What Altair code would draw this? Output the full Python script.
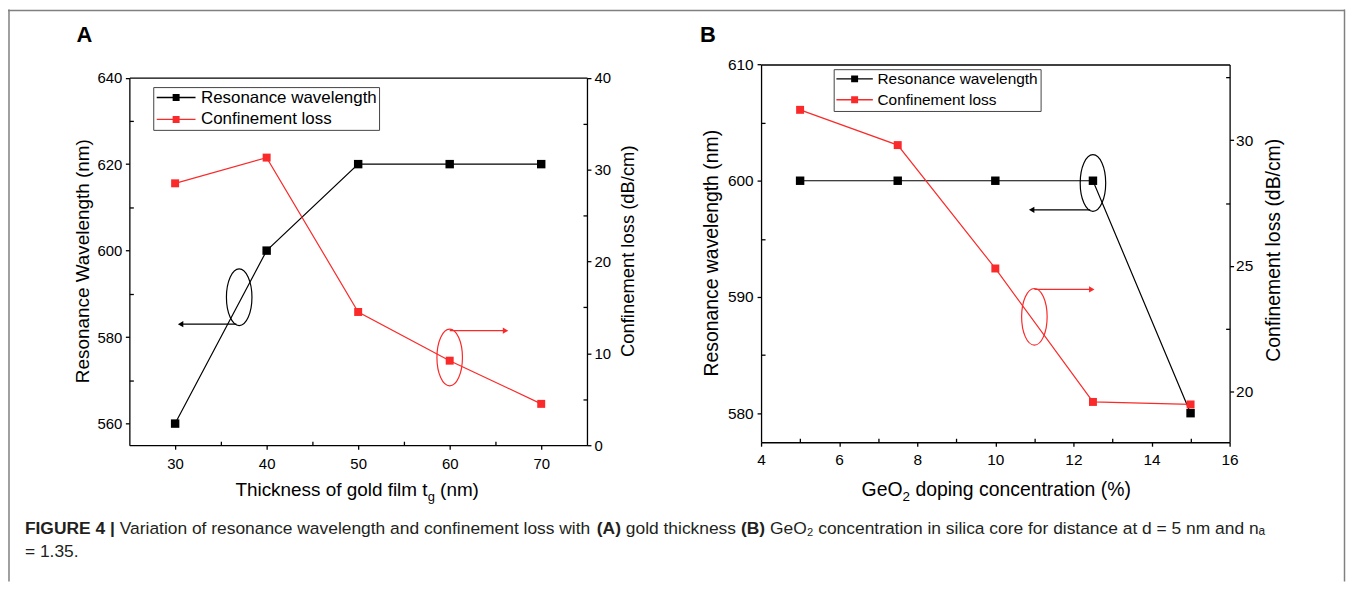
import altair as alt
import pandas as pd

W, H = 1345, 575
FONT = "Liberation Sans"
BLACK = "#000000"
RED = "#fa2a2a"
CAP = "#231f20"

# ---------------- data ----------------
A_THICKNESS = [30, 40, 50, 60, 70]
A_RES_WAVELENGTH = [560, 600, 620, 620, 620]
A_CONF_LOSS = [28.5, 31.3, 14.5, 9.2, 4.5]

B_GEO2 = [5, 7.5, 10, 12.5, 15]
B_RES_WAVELENGTH = [600, 600, 600, 600, 580]
B_CONF_LOSS = [31.2, 29.8, 24.9, 19.6, 19.5]

SERIES = ["Resonance wavelength", "Confinement loss"]

A_X_TICKS = [30, 40, 50, 60, 70]
A_X_MINOR = [35, 45, 55, 65]
A_YL_TICKS = [560, 580, 600, 620, 640]
A_YL_MINOR = [570, 590, 610, 630]
A_YR_TICKS = [0, 10, 20, 30, 40]
A_YR_MINOR = [5, 15, 25, 35]
B_X_TICKS = [4, 6, 8, 10, 12, 14, 16]
B_X_MINOR = [5, 7, 9, 11, 13, 15]
B_YL_TICKS = [580, 590, 600, 610]
B_YL_MINOR = [585, 595, 605]
B_YR_TICKS = [20, 25, 30]
B_YR_MINOR = [22.5, 27.5, 32.5]

# annotations (data units): ellipse centre; arrow x-start, x-end, y
A_BLACK_ELLIPSE = [37.0, 589.2]
A_BLACK_ARROW = [36.7, 30.6, 583.0]
A_RED_ELLIPSE = [60.0, 9.55]
A_RED_ARROW = [60.0, 66.1, 12.46]
B_BLACK_ELLIPSE = [12.5, 599.8]
B_BLACK_ARROW = [12.43, 10.93, 597.5]
B_RED_ELLIPSE = [11.0, 22.98]
B_RED_ARROW = [11.0, 12.47, 24.07]

CAPTION_SEGMENTS = [
    ("FIGURE 4 | ", "bold"),
    ("Variation of resonance wavelength and confinement loss with ", "normal"),
    ("(A)", "bold"),
    (" gold thickness ", "normal"),
    ("(B)", "bold"),
    (" GeO\u2082 concentration in silica core for distance at d = 5 nm and n\u2090", "normal"),
]
CAPTION_LINE2 = "= 1.35."

# ---------------- helpers ----------------
REG = {' ': 278, 'a': 556, 'b': 556, 'c': 500, 'd': 556, 'e': 556, 'f': 278, 'g': 556,
       'h': 556, 'i': 222, 'j': 222, 'k': 500, 'l': 222, 'm': 833, 'n': 556, 'o': 556,
       'p': 556, 'q': 556, 'r': 333, 's': 500, 't': 278, 'u': 556, 'v': 500, 'w': 722,
       'x': 500, 'y': 500, 'z': 500, 'A': 667, 'B': 667, 'C': 722, 'G': 778, 'O': 778,
       'T': 611, 'V': 667, '(': 333, ')': 333, '%': 889, '=': 584, '.': 278, '|': 260,
       '/': 278}
BOLD = {' ': 278, 'F': 611, 'I': 278, 'G': 778, 'U': 722, 'R': 722, 'E': 667, '4': 556,
        '|': 280, '(': 333, ')': 333, 'A': 722, 'B': 722}


def tw(s, size, bold=False):
    t = BOLD if bold else REG
    return sum(t.get(ch, 556) for ch in s) * size / 1000.0


ONE = pd.DataFrame({"k": [0]})


def txt(s, x, y, size, weight="normal", angle=0, align="left", baseline="alphabetic", color=BLACK):
    return alt.Chart(ONE).mark_text(
        text=s, font=FONT, fontSize=size, fontWeight=weight, angle=angle,
        align=align, baseline=baseline, color=color
    ).encode(x=alt.value(x), y=alt.value(y))


def run(parts, x, y, color=BLACK):
    """Draw a sequence of (text, weight, size, dy) pieces one after another from x."""
    out = []
    for s, wt, sz, dy in parts:
        bold = wt == "bold"
        lead = len(s) - len(s.lstrip(" "))
        core = s.strip(" ")
        if core:
            out.append(txt(core, x + tw(" " * lead, sz, bold), y + dy, sz, wt, color=color))
        x += tw(s, sz, bold)
    return out


def run_width(parts):
    return sum(tw(s, sz, wt == "bold") for s, wt, sz, dy in parts)


def major(orient, offset, values, size, pad):
    return alt.Axis(orient=orient, offset=offset, values=values, title=None, grid=False,
                    domain=True, domainColor=BLACK, domainWidth=1.3,
                    ticks=True, tickColor=BLACK, tickWidth=1.3, tickSize=4,
                    labels=True, labelFont=FONT, labelFontSize=size, labelColor=BLACK,
                    labelPadding=pad, labelFlush=False, labelOverlap=False, format="d")


def minor(orient, offset, values):
    return alt.Axis(orient=orient, offset=offset, values=values, title=None, grid=False,
                    domain=False, labels=False, ticks=True, tickColor=BLACK,
                    tickWidth=1.3, tickSize=4)


def line_only(orient, offset):
    return alt.Axis(orient=orient, offset=offset, title=None, grid=False, domain=True,
                    domainColor=BLACK, domainWidth=1.3, ticks=False, labels=False)


def xy(chart, xf, yf, xs, ys, xaxis=None, yaxis=None):
    return chart.encode(
        x=alt.X(xf, type="quantitative", scale=xs, axis=xaxis),
        y=alt.Y(yf, type="quantitative", scale=ys, axis=yaxis),
    )


ELLIPSE = ("M0,-1 C0.2485,-1 0.45,-0.5523 0.45,0 C0.45,0.5523 0.2485,1 0,1 "
           "C-0.2485,1 -0.45,0.5523 -0.45,0 C-0.45,-0.5523 -0.2485,-1 0,-1 Z")
# legend symbols: line with a square, drawn in a 14px slot (scale 7) extending to the right
LEG_A = "M-1,-0.1H4.571V0.1H-1Z M1.286,-0.5H2.286V0.5H1.286Z"
LEG_B = "M-1,-0.1H4.229V0.1H-1Z M1.114,-0.5H2.114V0.5H1.114Z"

# ---------------- scales (pixel ranges place the two panels) ----------------
AXL, AXR, AYT, AYB = 122, 582, 68.5, 438
BXL, BXR, BYT, BYB = 757, 1228, 55.3, 435

A_X = alt.Scale(domain=[25, 75], range=[AXL, AXR], nice=False, zero=False)
A_YL = alt.Scale(domain=[555, 640], range=[AYB, AYT], nice=False, zero=False)
A_YR = alt.Scale(domain=[0, 40], range=[AYB, AYT], nice=False, zero=False)
B_X = alt.Scale(domain=[4, 16], range=[BXL, BXR], nice=False, zero=False)
B_YL = alt.Scale(domain=[577.5, 610], range=[BYB, BYT], nice=False, zero=False)
B_YR = alt.Scale(domain=[18, 33], range=[BYB, BYT], nice=False, zero=False)

dfA = pd.DataFrame({"x": A_THICKNESS, "res": A_RES_WAVELENGTH, "loss": A_CONF_LOSS})
dfB = pd.DataFrame({"x": B_GEO2, "res": B_RES_WAVELENGTH, "loss": B_CONF_LOSS})


def panel(df, xs, ysl, ysr, xl, xr, yt, yb, xt, ylt, yrt, xm, ylm, yrm, lsize, pads,
          bell, barr, rell, rarr, legx, legy, legpath, legfont, legrow, legoff):
    layers = []
    layers.append(xy(alt.Chart(df).mark_line(color=BLACK, strokeWidth=1.2), "x", "res", xs, ysl,
                     major("bottom", -(H - yb), xt, lsize, pads[0]),
                     major("left", -xl, ylt, lsize, pads[1])))
    layers.append(xy(alt.Chart(df).mark_point(shape="square", filled=True, size=72, color=BLACK, opacity=1),
                     "x", "res", xs, ysl))
    layers.append(xy(alt.Chart(df).mark_line(color=RED, strokeWidth=1.2), "x", "loss", xs, ysr,
                     line_only("top", -yt),
                     major("right", -(W - xr), yrt, lsize, pads[2])))
    layers.append(xy(alt.Chart(df).mark_point(shape="square", filled=True, size=64, color=RED, opacity=1),
                     "x", "loss", xs, ysr))
    layers.append(xy(alt.Chart(df).mark_point(opacity=0), "x", "res", xs, ysl,
                     minor("top", -yb, xm), minor("right", -(W - xl), ylm)))
    layers.append(xy(alt.Chart(df).mark_point(opacity=0), "x", "loss", xs, ysr,
                     None, minor("left", -xr, yrm)))
    for ell, arr, ys, col, head in [(bell, barr, ysl, BLACK, "triangle-left"),
                                     (rell, rarr, ysr, RED, "triangle-right")]:
        de = pd.DataFrame({"x": [ell[0]], "y": [ell[1]]})
        da = pd.DataFrame({"x1": [arr[0]], "x2": [arr[1]], "y": [arr[2]]})
        layers.append(xy(alt.Chart(de).mark_point(shape=ELLIPSE, size=3249, filled=False,
                                                  strokeWidth=1.2, color=col, opacity=1),
                         "x", "y", xs, ys))
        layers.append(alt.Chart(da).mark_rule(color=col, strokeWidth=1.3).encode(
            x=alt.X("x1:Q", scale=xs, axis=None), x2="x2:Q",
            y=alt.Y("y:Q", scale=ys, axis=None)))
        layers.append(xy(alt.Chart(da).mark_point(shape=head, filled=True, size=40, color=col, opacity=1),
                         "x2", "y", xs, ys))
    layers.append(alt.Chart(pd.DataFrame({"series": SERIES})).mark_point(
        shape=legpath, filled=True, opacity=0, size=196).encode(
        x=alt.value(0), y=alt.value(0),
        color=alt.Color("series:N", scale=alt.Scale(domain=SERIES, range=[BLACK, RED]),
                        legend=alt.Legend(orient="none", legendX=legx, legendY=legy, title=None,
                                          symbolType=legpath, symbolSize=196, symbolOpacity=1,
                                          symbolStrokeWidth=0, labelFont=FONT,
                                          labelFontSize=legfont, labelColor=BLACK,
                                          labelLimit=400, labelOffset=legoff, padding=2,
                                          rowPadding=legrow,
                                          strokeColor="#444444", fillColor="white"))))
    return layers


layers = []
layers += panel(dfA, A_X, A_YL, A_YR, AXL, AXR, AYT, AYB, A_X_TICKS, A_YL_TICKS, A_YR_TICKS,
                A_X_MINOR, A_YL_MINOR, A_YR_MINOR, 15, (7, 3.5, 3),
                A_BLACK_ELLIPSE, A_BLACK_ARROW, A_RED_ELLIPSE, A_RED_ARROW,
                146, 78, LEG_A, 17, 4, 29)
layers += panel(dfB, B_X, B_YL, B_YR, BXL, BXR, BYT, BYB, B_X_TICKS, B_YL_TICKS, B_YR_TICKS,
                B_X_MINOR, B_YL_MINOR, B_YR_MINOR, 15.5, (6, 4, 2),
                B_BLACK_ELLIPSE, B_BLACK_ARROW, B_RED_ELLIPSE, B_RED_ARROW,
                830, 60, LEG_B, 15.5, 4, 26.5)

# panel letters
layers.append(txt("A", 76.7, 25.8, 22, "bold", align="center", baseline="middle"))
layers.append(txt("B", 703.5, 25.5, 22, "bold", align="center", baseline="middle"))

# y titles
layers.append(txt("Resonance Wavelength (nm)", 75, 253, 19, angle=270, align="center", baseline="middle"))
layers.append(txt("Confinement loss (dB/cm)", 623.5, 243, 18.5, angle=270, align="center", baseline="middle"))
layers.append(txt("Resonance wavelength (nm)", 708, 245, 19.5, angle=270, align="center", baseline="middle"))
layers.append(txt("Confinement loss (dB/cm)", 1273, 242, 19.5, angle=270, align="center", baseline="middle"))

# x titles with subscripts
TA = [("Thickness of gold film t", "normal", 19, 0), ("g", "normal", 13, 5), (" (nm)", "normal", 19, 0)]
layers += run(TA, 351 - run_width(TA) / 2, 489)
TB = [("GeO", "normal", 19.5, 0), ("2", "normal", 13.5, 5), (" doping concentration (%)", "normal", 19.5, 0)]
layers += run(TB, 993.5 - run_width(TB) / 2, 489)

# caption
CP = [(s, wt, 17.5, 0) for s, wt in CAPTION_SEGMENTS]
layers += run(CP, 17, 527, color=CAP)
layers.append(txt(CAPTION_LINE2, 17, 550, 17.5, color=CAP))

# figure frame (left, top, right)
layers.append(alt.Chart(ONE).mark_rule(color="#808080", strokeWidth=1.5).encode(
    x=alt.value(1), y=alt.value(0), y2=alt.value(H)))
layers.append(alt.Chart(ONE).mark_rule(color="#808080", strokeWidth=1.5).encode(
    x=alt.value(0), x2=alt.value(W - 1), y=alt.value(1)))
layers.append(alt.Chart(ONE).mark_rule(color="#808080", strokeWidth=1.5).encode(
    x=alt.value(W - 1.5), y=alt.value(0), y2=alt.value(H)))

chart = alt.layer(*layers).resolve_scale(
    x="independent", y="independent", color="independent"
).properties(
    width=W, height=H, autosize=alt.AutoSizeParams(type="none"), padding=0,
    background="white"
).configure_view(stroke=None)

chart.save("out.html", embed_options={"renderer": "svg", "actions": False})
